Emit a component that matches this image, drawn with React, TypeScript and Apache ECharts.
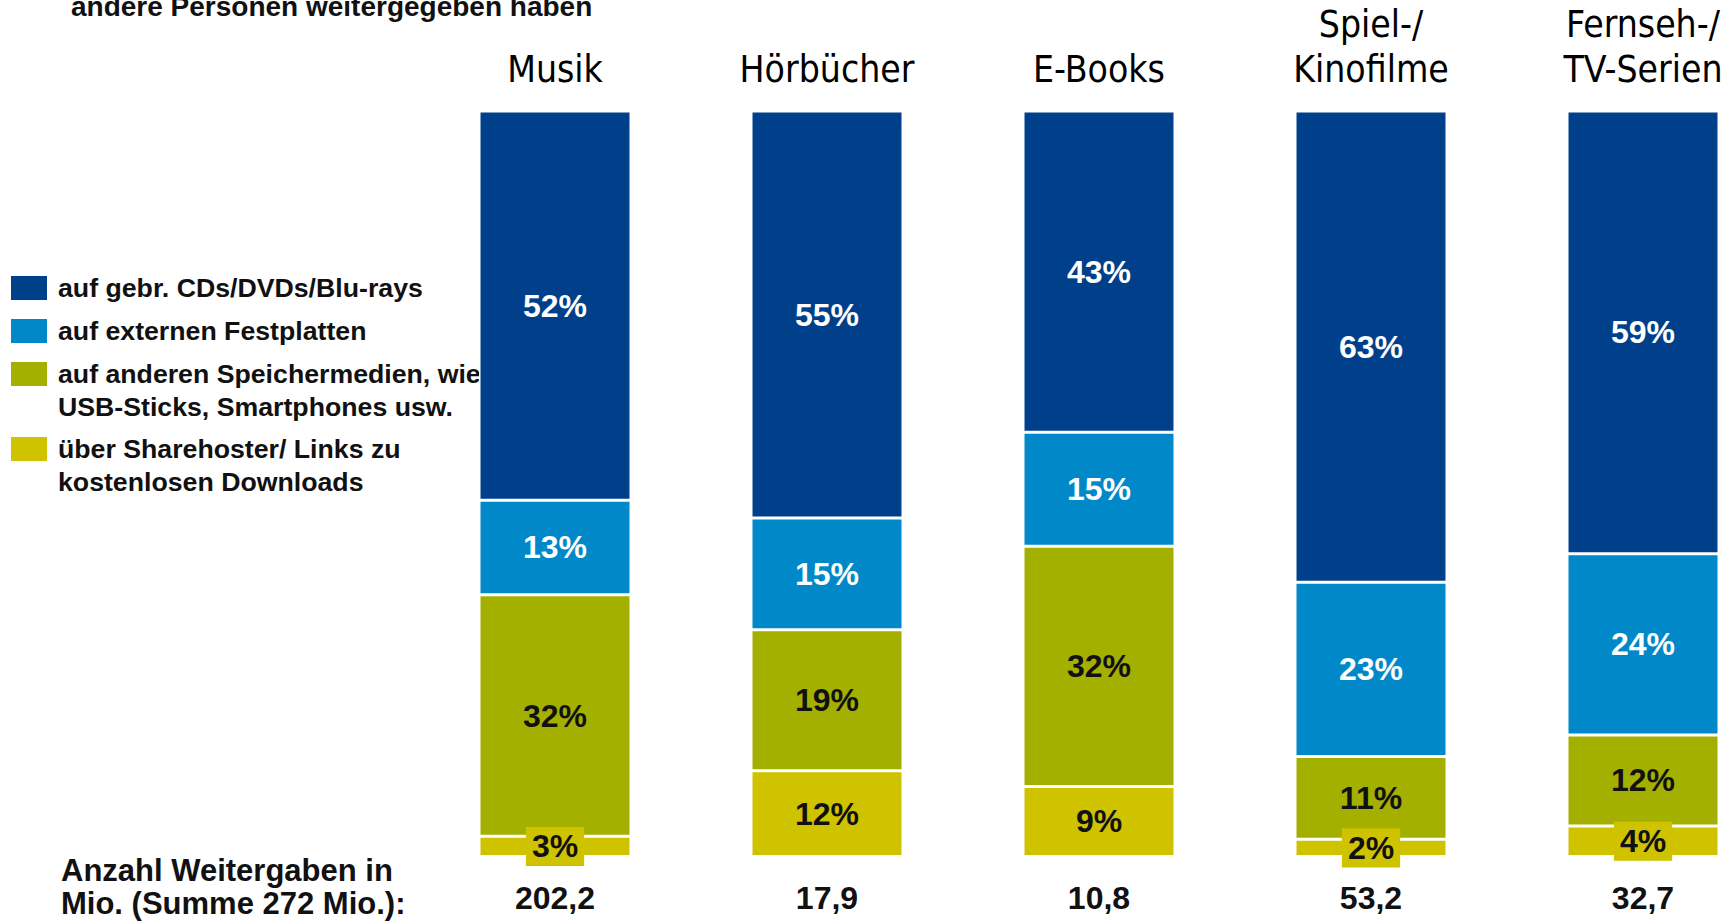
import React, { useEffect, useRef } from "react";
import * as echarts from "echarts";

// ---- data ----
const categories = ["Musik", "Hörbücher", "E-Books", "Spiel-/\nKinofilme", "Fernseh-/\nTV-Serien"];
const counts = ["202,2", "17,9", "10,8", "53,2", "32,7"];
const cdShare = [52.2, 54.6, 43.1, 63.2, 59.4];
const hddShare = [12.7, 15.0, 15.3, 23.4, 24.3];
const otherMediaShare = [32.4, 18.9, 32.2, 11.1, 12.2];
const sharehosterShare = [2.7, 11.5, 9.4, 2.3, 4.1];

const seriesNames = [
  "auf gebr. CDs/DVDs/Blu-rays",
  "auf externen Festplatten",
  "auf anderen Speichermedien, wie\nUSB-Sticks, Smartphones usw.",
  "über Sharehoster/ Links zu\nkostenlosen Downloads",
];
const titleText = "andere Personen weitergegeben haben";
const footText = "Anzahl Weitergaben in\nMio. (Summe 272 Mio.):";

const COLORS = ["#00408A", "#0088C8", "#A4B000", "#CFC300"];
const ARIAL = "'Liberation Sans', Arial, sans-serif";
const NARROW = "'Liberation Sans Narrow', 'Arial Narrow', 'DejaVu Sans Condensed', sans-serif";

export default function App() {
  const ref = useRef<HTMLDivElement>(null);
  useEffect(() => {
    if (!ref.current) return;
    const chart = echarts.init(ref.current, undefined, { renderer: "svg" });

    const labelFor = (color: string, bg?: string) => ({
      show: true,
      position: "inside" as const,
      color,
      fontFamily: ARIAL,
      fontWeight: "bold" as const,
      fontSize: 32,
      lineHeight: 30,
      formatter: (p: any) => Math.round(p.value) + "%",
      ...(bg ? { backgroundColor: bg, padding: [5, 6, 4, 6] } : {}),
    });

    const mk = (idx: number, data: number[], labelColor: string, bg?: string) => ({
      name: seriesNames[idx],
      type: "bar" as const,
      stack: "all",
      barWidth: 152,
      data,
      itemStyle: { color: COLORS[idx], borderColor: "#ffffff", borderWidth: 1.5 },
      label: labelFor(labelColor, bg),
    });

    const legendRows = [288, 331, 374, 449];
    const legendGraphics: any[] = [];
    seriesNames.forEach((n, i) => {
      legendGraphics.push({
        type: "rect",
        left: 11,
        top: legendRows[i] - 12,
        shape: { width: 36, height: 24 },
        style: { fill: COLORS[i] },
      });
      legendGraphics.push({
        type: "text",
        left: 58,
        top: legendRows[i] - 16.5,
        style: {
          text: n,
          fill: "#111",
          font: `bold 26.7px ${ARIAL}`,
          lineHeight: 33,
        },
      });
    });

    chart.setOption({
      animation: false,
      backgroundColor: "#ffffff",
      grid: { left: 419, right: -55, top: 111, bottom: 64.5, outerBoundsMode: "none", containLabel: false },
      xAxis: [
        {
          type: "category",
          position: "top",
          data: categories,
          axisLine: { show: false },
          axisTick: { show: false },
          axisLabel: {
            color: "#000",
            fontFamily: NARROW,
            fontSize: 37,
            lineHeight: 45,
            margin: 19,
            interval: 0,
          },
        },
        {
          type: "category",
          position: "bottom",
          data: counts,
          axisLine: { show: false },
          axisTick: { show: false },
          axisLabel: {
            color: "#111",
            fontFamily: ARIAL,
            fontWeight: "bold",
            fontSize: 32,
            lineHeight: 31,
            margin: 26,
            interval: 0,
          },
        },
      ],
      yAxis: { type: "value", min: 0, max: 100, show: false },
      series: [
        mk(3, sharehosterShare, "#111", COLORS[3]),
        mk(2, otherMediaShare, "#111"),
        mk(1, hddShare, "#ffffff"),
        mk(0, cdShare, "#ffffff"),
      ],
      graphic: [
        {
          type: "text",
          left: 71,
          top: -8,
          style: { text: titleText, fill: "#111", font: `bold 28px ${ARIAL}` },
        },
        {
          type: "text",
          left: 61,
          top: 854,
          style: { text: footText, fill: "#111", font: `bold 31px ${ARIAL}`, lineHeight: 33 },
        },
        ...legendGraphics,
      ],
    });
    return () => chart.dispose();
  }, []);
  return (
    <div
      ref={ref}
      style={{ position: "absolute", left: 0, top: 0, width: 1724, height: 921 }}
    />
  );
}
